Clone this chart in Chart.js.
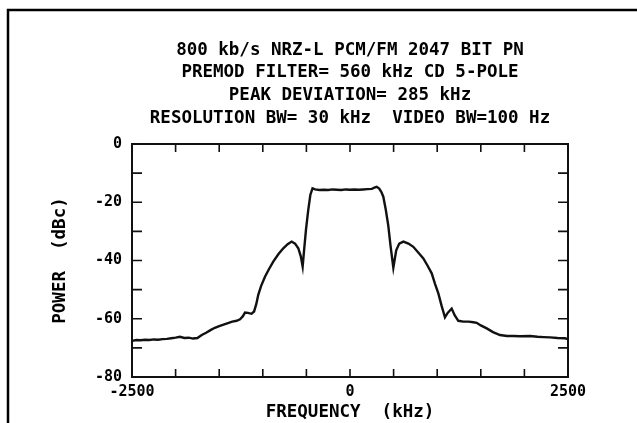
<!DOCTYPE html>
<html>
<head>
<meta charset="utf-8">
<script src="https://cdn.jsdelivr.net/npm/chart.js@4/dist/chart.umd.min.js"></script>
<style>
  html, body { margin: 0; padding: 0; background: #fff; }
  #wrap { width: 637px; height: 423px; position: relative; }
</style>
</head>
<body>
<div id="wrap"><canvas id="c" width="637" height="423"></canvas></div>
<script>
// ---- data ----
const titleLines = [
  "800 kb/s NRZ-L PCM/FM 2047 BIT PN",
  "PREMOD FILTER= 560 kHz CD 5-POLE",
  "PEAK DEVIATION= 285 kHz",
  "RESOLUTION BW= 30 kHz  VIDEO BW=100 Hz"
];
const xAxisTitle = "FREQUENCY  (kHz)";
const yAxisTitle = "POWER  (dBc)";
const xLabeledTicks = [-2500, 0, 2500];
const yLabeledTicks = [0, -20, -40, -60, -80];

const frequencyKHz = [
  -2500, -2450, -2400, -2350, -2300, -2250, -2200, -2150, -2100, -2050,
  -2000, -1950, -1900, -1850, -1800, -1750, -1700, -1650, -1600, -1550,
  -1500, -1450, -1400, -1350, -1300, -1261, -1230, -1204, -1170, -1130,
  -1100, -1075, -1052, -1020, -975, -930, -880, -820, -765, -715,
  -669, -630, -593, -565, -543, -525, -505, -480, -455, -430,
  -400, -350, -300, -250, -200, -150, -100, -50, 0, 50,
  100, 150, 200, 250, 280, 306, 335, 360, 382, 410,
  439, 465, 497, 530, 565, 612, 670, 726, 790, 841,
  890, 937, 975, 1013, 1050, 1089, 1120, 1166, 1200, 1242,
  1300, 1360, 1414, 1453, 1500, 1568, 1640, 1720, 1800, 1873,
  1950, 2064, 2150, 2220, 2294, 2380, 2466, 2500
];
const powerDBc = [
  -67.6, -67.3, -67.4, -67.2, -67.3, -67.1, -67.2, -67.0, -66.9, -66.7,
  -66.5, -66.2, -66.6, -66.5, -66.8, -66.6, -65.6, -64.8, -63.9, -63.1,
  -62.5, -62.0, -61.5, -61.0, -60.7, -60.2, -59.2, -57.9, -58.0, -58.3,
  -57.5, -55.0, -51.8, -48.8, -45.6, -43.0, -40.4, -37.8, -35.8, -34.4,
  -33.5, -34.2, -35.8, -38.5, -42.1, -36.0, -29.5, -23.0, -17.5, -15.2,
  -15.6, -15.8, -15.7, -15.8, -15.6, -15.7, -15.8, -15.6, -15.7, -15.6,
  -15.7, -15.6, -15.5, -15.4, -15.0, -14.7, -15.3, -16.5, -18.1, -22.5,
  -28.0, -35.0, -42.5, -36.5, -34.2, -33.5, -34.2, -35.3, -37.5, -39.3,
  -41.8, -44.4, -48.0, -51.3, -55.5, -59.5, -58.0, -56.5, -58.8, -60.7,
  -61.0, -61.0, -61.2, -61.4, -62.3, -63.3, -64.6, -65.6, -65.9, -65.9,
  -66.0, -65.9, -66.2, -66.3, -66.4, -66.6, -66.7, -67.0
];

const MONO = "'DejaVu Sans Mono', 'Liberation Mono', monospace";
const INK = '#111';

const points = frequencyKHz.map((f, i) => ({ x: f, y: powerDBc[i] }));

// frame around the page + box and inward ticks around the plot
const framePlugin = {
  id: 'frame',
  beforeDraw(chart) {
    const ctx = chart.ctx;
    ctx.save();
    ctx.fillStyle = '#fff';
    ctx.fillRect(0, 0, chart.width, chart.height);
    ctx.strokeStyle = '#000';
    ctx.lineWidth = 2.5;
    ctx.beginPath();
    ctx.moveTo(8, chart.height);
    ctx.lineTo(8, 10);
    ctx.lineTo(chart.width, 10);
    ctx.stroke();
    ctx.restore();
  },
  afterDatasetsDraw(chart) {
    const ctx = chart.ctx;
    const a = chart.chartArea;
    const xs = chart.scales.x, ys = chart.scales.y;
    ctx.save();
    ctx.strokeStyle = INK;
    ctx.lineWidth = 2;
    ctx.strokeRect(a.left, a.top, a.right - a.left, a.bottom - a.top);
    ctx.lineWidth = 1.6;
    ctx.beginPath();
    xs.ticks.forEach(t => {
      const px = xs.getPixelForValue(t.value);
      ctx.moveTo(px, a.bottom); ctx.lineTo(px, a.bottom - 8);
      ctx.moveTo(px, a.top); ctx.lineTo(px, a.top + 8);
    });
    ys.ticks.forEach(t => {
      const py = ys.getPixelForValue(t.value);
      ctx.moveTo(a.left, py); ctx.lineTo(a.left + 10, py);
      ctx.moveTo(a.right, py); ctx.lineTo(a.right - 10, py);
    });
    ctx.stroke();
    ctx.restore();
  }
};

new Chart(document.getElementById('c'), {
  type: 'line',
  data: {
    datasets: [{
      data: points,
      borderColor: INK,
      borderWidth: 2.4,
      pointRadius: 0,
      tension: 0,
      fill: false
    }]
  },
  options: {
    responsive: false,
    animation: false,
    events: [],
    layout: { padding: { left: 63, right: 0, top: 0, bottom: 0 } },
    plugins: {
      legend: { display: false },
      tooltip: { enabled: false },
      title: {
        display: true,
        text: titleLines,
        color: '#000',
        font: { family: MONO, size: 17.5, weight: 'bold', lineHeight: 1.3 },
        padding: { top: 38.6, bottom: 14.4 }
      }
    },
    scales: {
      x: {
        type: 'linear',
        min: -2500, max: 2500,
        afterFit: s => { s.height = 46; },
        grid: { display: false, drawTicks: false },
        border: { display: false },
        ticks: {
          stepSize: 500,
          autoSkip: false,
          maxRotation: 0,
          padding: 6,
          color: '#000',
          font: { family: MONO, size: 15, weight: 'bold' },
          callback: v => xLabeledTicks.includes(v) ? String(v) : ''
        },
        title: {
          display: true,
          text: xAxisTitle,
          color: '#000',
          font: { family: MONO, size: 17.5, weight: 'bold', lineHeight: 1.2 },
          padding: { top: 0, bottom: 0 }
        }
      },
      y: {
        type: 'linear',
        position: 'left',
        min: -80, max: 0,
        afterFit: s => { s.width = 69; },
        grid: { display: false, drawTicks: false },
        border: { display: false },
        ticks: {
          stepSize: 10,
          autoSkip: false,
          padding: 10,
          color: '#000',
          font: { family: MONO, size: 15, weight: 'bold' },
          callback: v => yLabeledTicks.includes(v) ? String(v) : ''
        },
        title: {
          display: true,
          text: yAxisTitle,
          color: '#000',
          font: { family: MONO, size: 17.5, weight: 'bold', lineHeight: 1.2 },
          padding: { top: -13.5, bottom: 0 }
        }
      },
      yRight: {
        type: 'linear',
        position: 'right',
        min: -80, max: 0,
        afterFit: s => { s.width = 69; },
        grid: { display: false, drawTicks: false },
        border: { display: false },
        ticks: { display: false }
      }
    }
  },
  plugins: [framePlugin]
});
</script>
</body>
</html>
